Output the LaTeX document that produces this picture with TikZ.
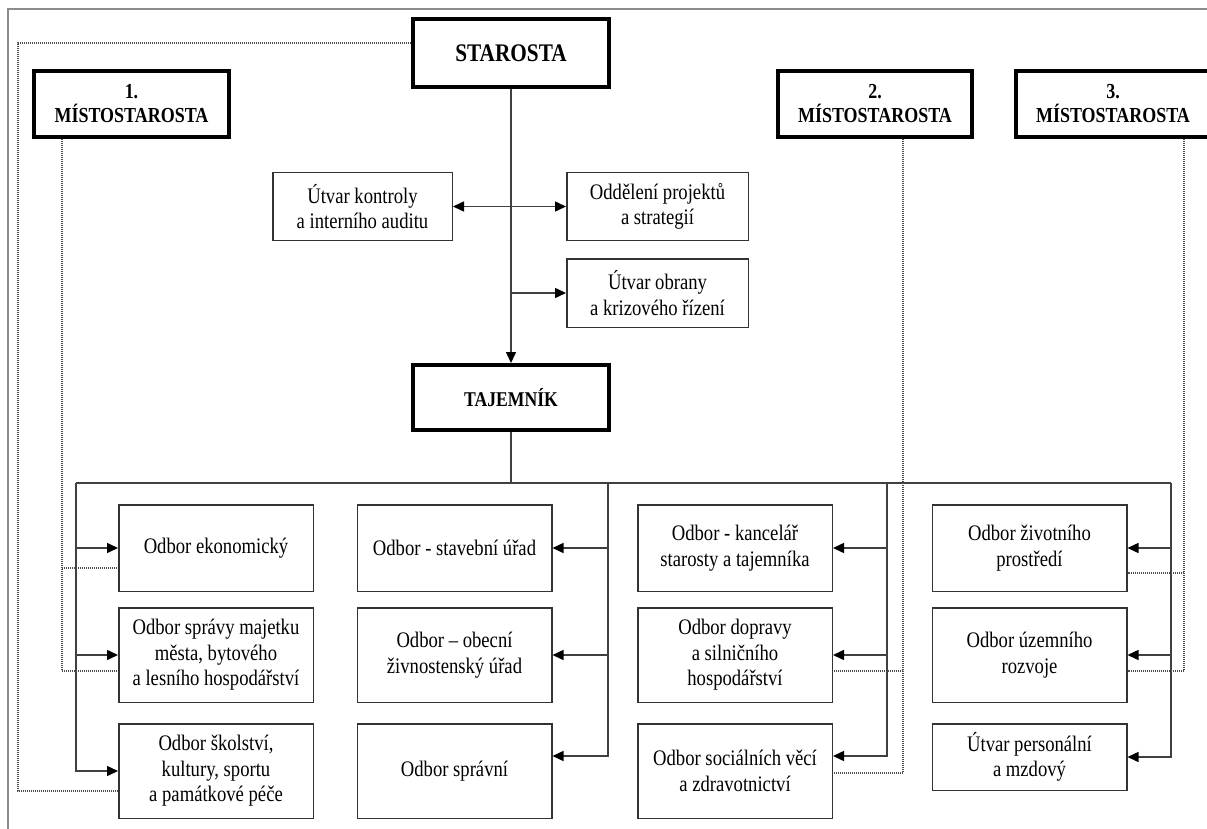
\documentclass[tikz,border=0pt]{standalone}
\usepackage{fontspec}
\setmainfont{Liberation Serif}[FakeStretch=0.84]
\usetikzlibrary{arrows.meta,calc}
\begin{document}
\begin{tikzpicture}[x=1pt,y=-1pt,
 box/.style={draw=black!80, line width=1.5pt, fill=white, align=center, inner sep=2pt, font=\fontsize{22.2}{25.5}\selectfont},
 head/.style={draw=black, line width=4pt, fill=white, align=center, inner sep=2pt, font=\bfseries\fontsize{21.4}{24}\selectfont},
 conn/.style={draw=black!75, line width=1.5pt},
 arr/.style={-{Triangle[length=11pt,width=10pt,color=black]}},
 darr/.style={{Triangle[length=11pt,width=10pt,color=black]}-{Triangle[length=11pt,width=10pt,color=black]}},
 dotline/.style={draw=black!70, line width=1.1pt, dash pattern=on 1pt off 1pt},
 frame/.style={draw=black!45, line width=2pt},
 c1/.style={box, minimum width=194.5pt},
 r1/.style={minimum height=86.5pt},
 r2/.style={minimum height=94.5pt},
]
\useasboundingbox (0,0) rectangle (1207,829);
\draw[frame] (8,829) -- (8,9) -- (1207,9);

% head boxes
\node[head, font=\bfseries\fontsize{25.3}{28}\selectfont, minimum width=196pt, minimum height=68pt] (star) at (511,53) {STAROSTA};
\node[head, minimum width=195pt, minimum height=66pt] (m1) at (131.5,104) {1.\\MÍSTOSTAROSTA};
\node[head, minimum width=194pt, minimum height=66pt] (m2) at (875,104) {2.\\MÍSTOSTAROSTA};
\node[head, minimum width=194pt, minimum height=66pt] (m3) at (1113,104) {3.\\MÍSTOSTAROSTA};
\node[head, font=\bfseries\fontsize{21}{24}\selectfont, minimum width=196pt, minimum height=65pt] (taj) at (511,397.5) {TAJEMNÍK};

% staff units
\node[box, minimum width=179.5pt, minimum height=67.5pt] (kon) at (362.5,206.5) {Útvar kontroly\\a interního auditu};
\node[box, minimum width=181.5pt, minimum height=67.5pt] (proj) at (657.5,206.5) {Oddělení projektů\\a strategií};
\node[box, minimum width=181.5pt, minimum height=68.5pt] (obr) at (657.5,293) {Útvar obrany\\a krizového řízení};

% departments
\node[c1, r1] (c11) at (216,548) {Odbor ekonomický};
\node[c1, r2] (c12) at (216,655) {Odbor správy majetku\\města, bytového\\a lesního hospodářství};
\node[c1, r2] (c13) at (216,771) {Odbor školství,\\kultury, sportu\\a památkové péče};
\node[c1, r1] (c21) at (454.5,548) {Odbor - stavební úřad};
\node[c1, r2] (c22) at (454.5,655) {Odbor – obecní\\živnostenský úřad};
\node[c1, r2] (c23) at (454.5,771) {Odbor správní};
\node[c1, r1] (c31) at (735,548) {Odbor - kancelář\\starosty a tajemníka};
\node[c1, r2] (c32) at (735,655) {Odbor dopravy\\a silničního\\hospodářství};
\node[c1, r2] (c33) at (735,771) {Odbor sociálních věcí\\a zdravotnictví};
\node[c1, r1] (c41) at (1029.5,548) {Odbor životního\\prostředí};
\node[c1, r2] (c42) at (1029.5,655) {Odbor územního\\rozvoje};
\node[c1, minimum height=66.5pt] (c43) at (1029.5,757) {Útvar personální\\a mzdový};

% top connectors
\draw[conn,arr] (star.south) -- (taj.north);
\draw[conn,darr] (kon.east) -- (proj.west);
\draw[conn,arr] (star.south |- obr.west) -- (obr.west);

% distribution
\coordinate (t1) at (76,483);
\coordinate (t2) at (608,483);
\coordinate (t3) at (887,483);
\coordinate (t4) at (1171,483);
\coordinate (r3) at (0,756);
\draw[conn] (taj.south) -- (taj.south |- t1);
\draw[conn] (t1) -- (t4);

\draw[conn,arr] (t1) |- (c13.west);
\draw[conn,arr] (t1 |- c11.west) -- (c11.west);
\draw[conn,arr] (t1 |- c12.west) -- (c12.west);

\draw[conn,arr] (t2) |- (c23.east |- r3);
\draw[conn,arr] (t2 |- c21.east) -- (c21.east);
\draw[conn,arr] (t2 |- c22.east) -- (c22.east);

\draw[conn,arr] (t3) |- (c33.east |- r3);
\draw[conn,arr] (t3 |- c31.east) -- (c31.east);
\draw[conn,arr] (t3 |- c32.east) -- (c32.east);

\draw[conn,arr] (t4) |- (c43.east);
\draw[conn,arr] (t4 |- c41.east) -- (c41.east);
\draw[conn,arr] (t4 |- c42.east) -- (c42.east);

% dotted lines
\coordinate (sL) at (18,43);
\coordinate (sB) at (18,791);
\draw[dotline] (star.west |- sL) -- (sL) -- (sB) -- (c13.west |- sB);

\coordinate (a1) at (62,671);
\coordinate (a1b) at (62,568);
\draw[dotline] (m1.south -| a1) -- (a1) -- (c12.west |- a1);
\draw[dotline] (a1b) -- (c11.west |- a1b);

\coordinate (a2) at (903,773);
\coordinate (a2b) at (903,671);
\draw[dotline] (m2.south -| a2) -- (a2) -- (c33.east |- a2);
\draw[dotline] (a2b) -- (c32.east |- a2b);

\coordinate (a3) at (1184,671);
\coordinate (a3b) at (1184,573);
\draw[dotline] (m3.south -| a3) -- (a3) -- (c42.east |- a3);
\draw[dotline] (a3b) -- (c41.east |- a3b);
\end{tikzpicture}
\end{document}
